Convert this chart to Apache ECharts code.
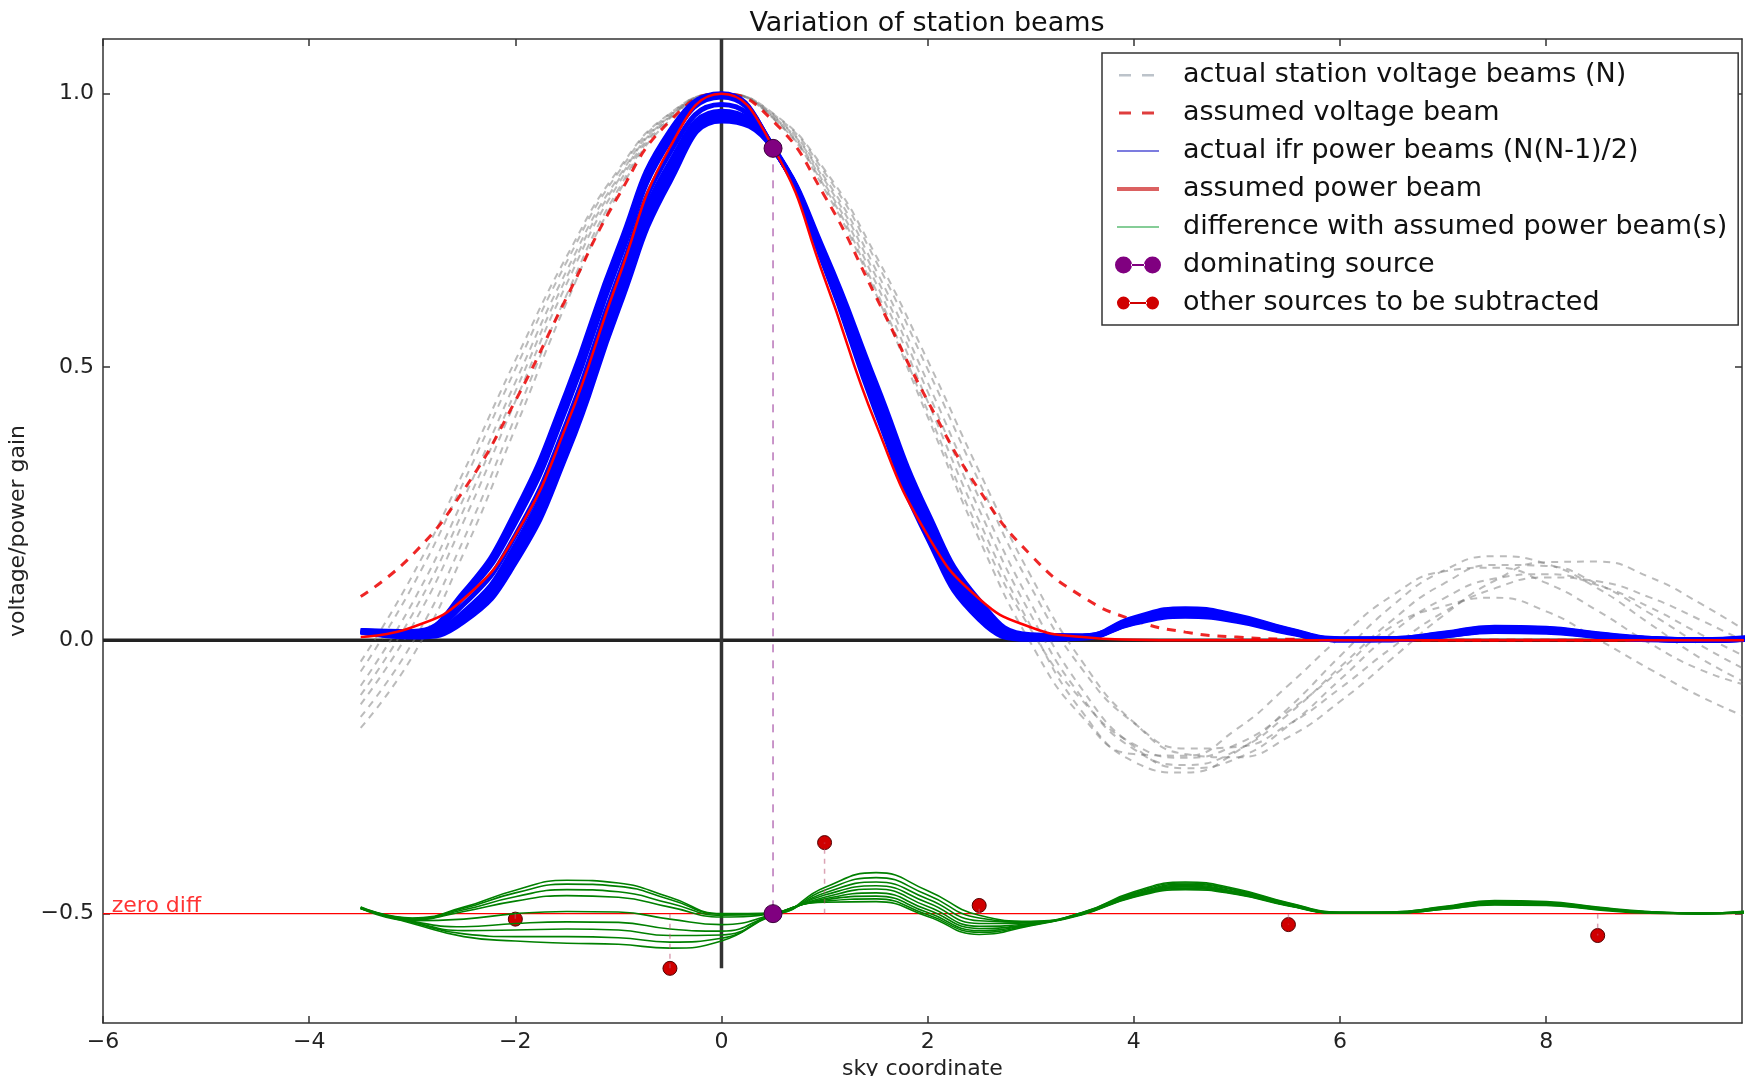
<!DOCTYPE html>
<html><head><meta charset="utf-8">
<script src="https://cdn.jsdelivr.net/npm/echarts@6/dist/echarts.min.js"></script>
<style>html,body{margin:0;padding:0;background:#fff}#chart{width:1745px;height:1076px}</style>
</head><body><div id="chart"></div>
<script>
// ---------- data ----------
const skyX = [-3.5,-3,-2.5,-2,-1.5,-1,-0.5,0,0.5,1,1.5,2,2.5,3,3.5,4,4.5,5,5.5,6,6.5,7,7.5,8,8.5,9,9.5,10];

const stationBeam1 = [-0.160,-0.030,0.160,0.388,0.619,0.818,0.952,1.000,0.955,0.830,0.640,0.420,0.200,0.020,-0.110,-0.190,-0.215,-0.190,-0.130,-0.055,0.025,0.062,0.078,0.053,0.002,-0.052,-0.103,-0.145];
const stationBeam2 = [-0.140,-0.005,0.185,0.409,0.633,0.825,0.955,1.000,0.955,0.825,0.633,0.409,0.185,-0.005,-0.140,-0.208,-0.211,-0.162,-0.082,0.005,0.081,0.126,0.133,0.105,0.054,-0.005,-0.054,-0.085];
const stationBeam3 = [-0.117,0.026,0.218,0.437,0.653,0.835,0.957,1.000,0.957,0.835,0.653,0.437,0.218,0.026,-0.131,-0.222,-0.242,-0.203,-0.124,-0.029,0.062,0.127,0.154,0.140,0.095,0.031,-0.033,-0.083];
const stationBeam4 = [-0.100,0.047,0.239,0.455,0.665,0.842,0.959,1.000,0.959,0.842,0.665,0.455,0.239,0.047,-0.105,-0.199,-0.228,-0.201,-0.135,-0.049,0.036,0.103,0.138,0.136,0.103,0.050,-0.009,-0.060];
const stationBeam5 = [-0.083,0.068,0.260,0.472,0.677,0.847,0.960,1.000,0.960,0.847,0.677,0.472,0.260,0.068,-0.090,-0.194,-0.234,-0.216,-0.156,-0.072,0.013,0.076,0.113,0.121,0.101,0.061,0.011,-0.036];
const stationBeam6 = [-0.057,0.098,0.290,0.496,0.693,0.856,0.963,1.000,0.963,0.856,0.693,0.496,0.290,0.098,-0.053,-0.151,-0.198,-0.195,-0.154,-0.088,-0.014,0.051,0.095,0.115,0.108,0.079,0.037,-0.009];
const stationBeam7 = [-0.039,0.118,0.309,0.512,0.703,0.861,0.964,1.000,0.964,0.861,0.703,0.512,0.309,0.118,-0.039,-0.150,-0.208,-0.214,-0.177,-0.112,-0.034,0.045,0.109,0.143,0.144,0.116,0.067,0.010];

const assumedVoltage = [0.080,0.156,0.275,0.438,0.628,0.813,0.950,1.000,0.950,0.813,0.628,0.438,0.275,0.156,0.080,0.037,0.015,0.006,0.002,0.001,0,0,0,0,0,0,0,0];

const powerBeam1 = [0.018,0.016,0.088,0.235,0.456,0.718,0.932,1.000,0.903,0.710,0.470,0.234,0.073,0.010,0.008,0.041,0.058,0.045,0.020,0.003,0.003,0.013,0.024,0.022,0.012,0.004,0.001,0.006];
const powerBeam2 = [0.018,0.015,0.086,0.230,0.449,0.712,0.928,0.999,0.902,0.705,0.461,0.226,0.068,0.009,0.008,0.039,0.056,0.043,0.019,0.002,0.003,0.012,0.023,0.021,0.011,0.003,0.001,0.005];
const powerBeam3 = [0.017,0.014,0.083,0.223,0.439,0.702,0.921,0.997,0.902,0.700,0.453,0.219,0.063,0.008,0.007,0.037,0.054,0.042,0.018,0.002,0.002,0.011,0.021,0.020,0.010,0.003,0.000,0.004];
const powerBeam4 = [0.017,0.013,0.080,0.215,0.428,0.692,0.914,0.994,0.902,0.696,0.446,0.212,0.058,0.007,0.007,0.036,0.052,0.040,0.017,0.002,0.002,0.010,0.020,0.019,0.010,0.003,0.000,0.004];
const powerBeam5 = [0.016,0.011,0.066,0.192,0.399,0.665,0.892,0.980,0.901,0.692,0.440,0.205,0.053,0.006,0.006,0.035,0.050,0.039,0.016,0.001,0.002,0.010,0.019,0.018,0.009,0.002,0.000,0.003];
const powerBeam6 = [0.016,0.010,0.052,0.174,0.380,0.646,0.874,0.968,0.901,0.689,0.433,0.199,0.049,0.005,0.006,0.034,0.049,0.038,0.016,0.001,0.002,0.009,0.018,0.018,0.009,0.002,0.000,0.003];
const powerBeam7 = [0.016,0.009,0.045,0.162,0.367,0.632,0.862,0.961,0.900,0.687,0.427,0.194,0.045,0.004,0.005,0.033,0.047,0.037,0.015,0.001,0.001,0.009,0.018,0.017,0.008,0.002,0.000,0.003];
const powerBeam8 = [0.015,0.008,0.039,0.150,0.353,0.618,0.850,0.955,0.900,0.685,0.422,0.190,0.042,0.003,0.005,0.032,0.046,0.036,0.015,0.001,0.001,0.008,0.017,0.016,0.008,0.002,0.000,0.002];
const powerBeam9 = [0.015,0.006,0.034,0.142,0.341,0.606,0.839,0.950,0.899,0.683,0.417,0.187,0.038,0.002,0.004,0.031,0.044,0.035,0.014,0.001,0.001,0.008,0.016,0.015,0.007,0.001,0.000,0.002];

const assumedPower = [0.006,0.024,0.076,0.192,0.395,0.662,0.902,1.000,0.902,0.662,0.395,0.192,0.076,0.024,0.006,0.001,0,0,0,0,0,0,0,0,0,0,0,0];

const diff1 = [-0.488,-0.508,-0.488,-0.457,-0.439,-0.444,-0.470,-0.500,-0.499,-0.452,-0.425,-0.458,-0.503,-0.514,-0.498,-0.460,-0.442,-0.455,-0.480,-0.497,-0.497,-0.487,-0.476,-0.478,-0.488,-0.496,-0.499,-0.494];
const diff2 = [-0.488,-0.509,-0.490,-0.462,-0.446,-0.450,-0.474,-0.501,-0.500,-0.457,-0.434,-0.466,-0.508,-0.515,-0.498,-0.462,-0.444,-0.457,-0.481,-0.498,-0.497,-0.488,-0.477,-0.479,-0.489,-0.497,-0.499,-0.495];
const diff3 = [-0.489,-0.510,-0.493,-0.469,-0.456,-0.460,-0.481,-0.503,-0.500,-0.462,-0.442,-0.473,-0.513,-0.516,-0.499,-0.464,-0.446,-0.458,-0.482,-0.498,-0.498,-0.489,-0.479,-0.480,-0.490,-0.497,-0.500,-0.496];
const diff4 = [-0.489,-0.511,-0.496,-0.477,-0.467,-0.470,-0.488,-0.506,-0.500,-0.466,-0.449,-0.480,-0.518,-0.517,-0.499,-0.465,-0.448,-0.460,-0.483,-0.498,-0.498,-0.490,-0.480,-0.481,-0.490,-0.497,-0.500,-0.496];
const diff5 = [-0.490,-0.513,-0.510,-0.500,-0.496,-0.497,-0.510,-0.520,-0.501,-0.470,-0.455,-0.487,-0.523,-0.518,-0.500,-0.466,-0.450,-0.461,-0.484,-0.499,-0.498,-0.490,-0.481,-0.482,-0.491,-0.498,-0.500,-0.497];
const diff6 = [-0.490,-0.514,-0.524,-0.518,-0.515,-0.516,-0.528,-0.532,-0.501,-0.473,-0.462,-0.493,-0.527,-0.519,-0.500,-0.467,-0.451,-0.462,-0.484,-0.499,-0.498,-0.491,-0.482,-0.482,-0.491,-0.498,-0.500,-0.497];
const diff7 = [-0.490,-0.515,-0.531,-0.530,-0.528,-0.530,-0.540,-0.539,-0.502,-0.475,-0.468,-0.498,-0.531,-0.520,-0.501,-0.468,-0.453,-0.463,-0.485,-0.499,-0.499,-0.491,-0.482,-0.483,-0.492,-0.498,-0.500,-0.497];
const diff8 = [-0.491,-0.516,-0.537,-0.542,-0.542,-0.544,-0.552,-0.545,-0.502,-0.477,-0.473,-0.502,-0.534,-0.521,-0.501,-0.469,-0.454,-0.464,-0.485,-0.499,-0.499,-0.492,-0.483,-0.484,-0.492,-0.498,-0.500,-0.498];
const diff9 = [-0.491,-0.518,-0.542,-0.550,-0.554,-0.556,-0.563,-0.550,-0.503,-0.479,-0.478,-0.505,-0.538,-0.522,-0.502,-0.470,-0.456,-0.465,-0.486,-0.499,-0.499,-0.492,-0.484,-0.485,-0.493,-0.499,-0.500,-0.498];

const dominantX = [0.5, 0.5];
const dominantY = [0.90, -0.5];
const otherSrcX = [-2, -0.5, 1, 2.5, 5.5, 8.5];
const otherSrcY = [-0.51, -0.60, -0.37, -0.485, -0.52, -0.54];

const zeroDiffLevel = -0.5;
const zeroDiffLabelX = -5.92;
const xRange = [-6, 9.9];
const yRange = [-0.7, 1.1];
const vLineY = [-0.6, 1.1];
const xTicks = [-6, -4, -2, 0, 2, 4, 6, 8];
const yTicks = [-0.5, 0, 0.5, 1.0];

const L_V = 'actual station voltage beams (N)';
const L_AV = 'assumed voltage beam';
const L_P = 'actual ifr power beams (N(N-1)/2)';
const L_AP = 'assumed power beam';
const L_D = 'difference with assumed power beam(s)';
const L_DOM = 'dominating source';
const L_OTH = 'other sources to be subtracted';

// ---------- build ----------
const FONT = 'DejaVu Sans';
const pts = ys => skyX.map((x, i) => [x, ys[i]]);
const minus = s => s.replace('-', '\u2212');

function curve(name, ys, color, width, type) {
  return { name, type: 'line', data: pts(ys), smooth: 0.5, symbol: 'none', silent: true,
    lineStyle: { color, width, type }, itemStyle: { color }, emphasis: { disabled: true } };
}

const series = [];
series.push({ name: 'hline', type: 'line', data: [[xRange[0], 0], [xRange[1], 0]], symbol: 'none', silent: true,
  lineStyle: { color: '#222', width: 3.5 } });
series.push({ name: 'vline', type: 'line', data: [[0, vLineY[0]], [0, vLineY[1]]], symbol: 'none', silent: true,
  lineStyle: { color: '#333', width: 3.5 } });

[stationBeam1, stationBeam2, stationBeam3, stationBeam4, stationBeam5, stationBeam6, stationBeam7]
  .forEach(b => series.push(curve(L_V, b, 'rgba(120,120,120,0.5)', 2, [7, 6])));
series.push(curve(L_AV, assumedVoltage, 'rgba(235,0,0,0.85)', 3, [9, 8]));
[powerBeam1, powerBeam2, powerBeam3, powerBeam4, powerBeam5, powerBeam6, powerBeam7, powerBeam8, powerBeam9]
  .forEach(b => series.push(curve(L_P, b, '#0000ff', 5)));
series.push(curve(L_AP, assumedPower, '#ff0000', 2.5));

series.push({ name: 'zerodiff', type: 'line', data: [[xRange[0], zeroDiffLevel], [xRange[1], zeroDiffLevel]],
  symbol: 'none', silent: true, lineStyle: { color: '#ff0000', width: 1.2 } });
series.push({ name: 'zerodiffLabel', type: 'scatter', data: [[zeroDiffLabelX, zeroDiffLevel]], symbolSize: 1, silent: true,
  itemStyle: { color: 'rgba(0,0,0,0)' },
  label: { show: true, formatter: 'zero diff', position: 'right', distance: 0, offset: [0, -7],
    color: '#ff0000', fontFamily: FONT, fontSize: 22 } });

[diff1, diff2, diff3, diff4, diff5, diff6, diff7, diff8, diff9]
  .forEach(d => series.push(curve(L_D, d, '#008000', 1.6)));

otherSrcX.forEach((x, i) => series.push({ name: 'srcline' + i, type: 'line',
  data: [[x, zeroDiffLevel], [x, otherSrcY[i]]], symbol: 'none', silent: true,
  lineStyle: { color: 'rgba(190,90,120,0.55)', width: 1.5, type: [5, 5] } }));

series.push({ name: L_DOM, type: 'line', data: dominantX.map((x, i) => [x, dominantY[i]]),
  symbol: 'circle', symbolSize: 18, silent: true,
  lineStyle: { color: 'rgba(128,0,128,0.55)', width: 1.5, type: [8, 8] },
  itemStyle: { color: '#800080', borderColor: '#3a003a', borderWidth: 1 } });
series.push({ name: L_OTH, type: 'scatter', data: otherSrcX.map((x, i) => [x, otherSrcY[i]]),
  symbol: 'circle', symbolSize: 14, silent: true,
  itemStyle: { color: '#d00000', borderColor: '#500000', borderWidth: 1, opacity: 1 } });

const box = (w, h) => 'M0,0M' + w + ',' + h;
const legendIcons = {
  dashThin: 'path://' + box(46, 20) + 'M4,9h12v2.5h-12zM27,9h12v2.5h-12z',
  dashThick: 'path://' + box(46, 20) + 'M4,8.5h12v3h-12zM27,8.5h12v3h-12z',
  thin: 'path://' + box(46, 20) + 'M2,9h42v2h-42z',
  thick: 'path://' + box(46, 20) + 'M2,8h42v4h-42z',
  bigDots: 'path://' + box(46, 20) + 'M0,10a8.5,8.5 0 1,0 17,0a8.5,8.5 0 1,0 -17,0zM29,10a8.5,8.5 0 1,0 17,0a8.5,8.5 0 1,0 -17,0zM16,9h14v2h-14z',
  smallDots: 'path://' + box(46, 20) + 'M2,10a6.5,6.5 0 1,0 13,0a6.5,6.5 0 1,0 -13,0zM31,10a6.5,6.5 0 1,0 13,0a6.5,6.5 0 1,0 -13,0zM14,9h18v2h-18z'
};

const axisCommon = {
  type: 'value', splitLine: { show: false },
  axisLine: { show: true, onZero: false, lineStyle: { color: '#333', width: 1.5 } }
};
const tickStyle = { show: true, inside: true, length: 7, lineStyle: { color: '#333', width: 1.5 } };

const option = {
  animation: false,
  backgroundColor: '#fff',
  title: { text: 'Variation of station beams', left: 922, top: 5, textAlign: 'center',
    textStyle: { fontFamily: FONT, fontSize: 27, fontWeight: 'normal', color: '#111' } },
  grid: { left: 103, right: 3, top: 39, bottom: 53, containLabel: false, outerBoundsMode: 'none' },
  legend: {
    orient: 'vertical', left: 1102, top: 53, padding: [7, 11, 7, 13], itemGap: 8,
    itemWidth: 46, itemHeight: 20, backgroundColor: '#fff', borderColor: '#333', borderWidth: 1.5,
    selectedMode: false, itemStyle: { borderWidth: 0 },
    textStyle: { fontFamily: FONT, fontSize: 27, color: '#111', lineHeight: 30, padding: [0, 0, 0, 17] },
    data: [
      { name: L_V, icon: legendIcons.dashThin, itemStyle: { color: 'rgba(160,170,180,0.7)' } },
      { name: L_AV, icon: legendIcons.dashThick, itemStyle: { color: 'rgba(220,40,40,0.9)' } },
      { name: L_P, icon: legendIcons.thin, itemStyle: { color: 'rgba(110,110,220,0.9)' } },
      { name: L_AP, icon: legendIcons.thick, itemStyle: { color: 'rgba(215,80,80,0.9)' } },
      { name: L_D, icon: legendIcons.thin, itemStyle: { color: 'rgba(120,200,140,0.9)' } },
      { name: L_DOM, icon: legendIcons.bigDots, itemStyle: { color: '#800080' } },
      { name: L_OTH, icon: legendIcons.smallDots, itemStyle: { color: '#d00000' } }
    ]
  },
  xAxis: [
    Object.assign({}, axisCommon, { position: 'bottom', min: xRange[0], max: xRange[1],
      axisTick: Object.assign({ customValues: xTicks }, tickStyle),
      axisLabel: { customValues: xTicks, formatter: v => minus(String(v)), fontFamily: FONT, fontSize: 22, color: '#222', margin: 8 },
      name: 'sky coordinate', nameLocation: 'middle', nameGap: 29,
      nameTextStyle: { fontFamily: FONT, fontSize: 22, color: '#222' } }),
    Object.assign({}, axisCommon, { position: 'top', min: xRange[0], max: xRange[1],
      axisTick: Object.assign({ customValues: xTicks }, tickStyle), axisLabel: { show: false } })
  ],
  yAxis: [
    Object.assign({}, axisCommon, { position: 'left', min: yRange[0], max: yRange[1],
      axisTick: Object.assign({ customValues: yTicks }, tickStyle),
      axisLabel: { customValues: yTicks, formatter: v => minus(Number(v).toFixed(1)), fontFamily: FONT, fontSize: 22, color: '#222', margin: 9 },
      name: 'voltage/power gain', nameLocation: 'middle', nameGap: 52, nameRotate: 90,
      nameTextStyle: { fontFamily: FONT, fontSize: 22, color: '#222' } }),
    Object.assign({}, axisCommon, { position: 'right', min: yRange[0], max: yRange[1],
      axisTick: Object.assign({ customValues: yTicks }, tickStyle), axisLabel: { show: false } })
  ],
  series: series
};

const chart = echarts.init(document.getElementById('chart'), null, { renderer: 'canvas' });
chart.setOption(option);
</script>
</body></html>
